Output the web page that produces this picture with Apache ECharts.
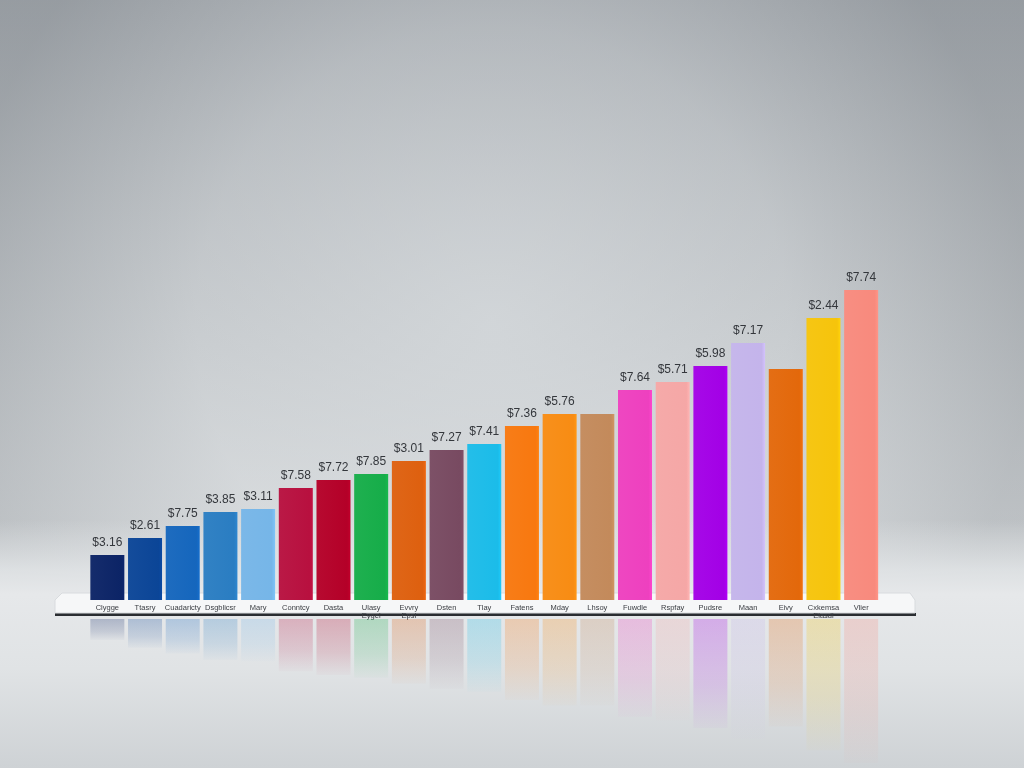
<!DOCTYPE html>
<html>
<head>
<meta charset="utf-8">
<script src="https://cdn.jsdelivr.net/npm/echarts@6/dist/echarts.min.js"></script>
<style>
  html, body { margin: 0; padding: 0; }
  #chart { width: 1024px; height: 768px; }
</style>
</head>
<body>
<div id="chart"></div>
<script>
// 类目名称（原图文字）
const categories = [
  'Clygge', 'Ttasry', 'Cuadaricty', 'Dsgblicsr', 'Mary', 'Conntcy', 'Dasta',
  'Ulasy\nEygel', 'Evvry\nEpsl', 'Dsten', 'Tlay', 'Fatens', 'Mday', 'Lhsoy',
  'Fuwdle', 'Rspfay', 'Pudsre', 'Maan', 'Eivy', 'Cxkemsa\nElasdl', 'Vlier'
]
// 柱子高度
const values = [
  4.5, 6.2, 7.4, 8.8, 9.1, 11.2, 12.0, 12.6, 13.9, 15.0, 15.6,
  17.4, 18.6, 18.6, 21.0, 21.8, 23.4, 25.7, 23.1, 28.2, 31.0
]
// 柱顶标签（空字符串表示不显示）
const valueLabels = [
  '$3.16', '$2.61', '$7.75', '$3.85', '$3.11', '$7.58', '$7.72', '$7.85',
  '$3.01', '$7.27', '$7.41', '$7.36', '$5.76', '', '$7.64', '$5.71',
  '$5.98', '$7.17', '', '$2.44', '$7.74'
]
// 柱子颜色
const colors = [
  '#0c2466', '#0b4597', '#1566bd', '#2a7dc2', '#76b6e8', '#b8103f', '#b40028',
  '#16ad49', '#de600f', '#784a61', '#1bbce9', '#f8780f', '#f88c13', '#c38a5b',
  '#ee40bf', '#f5a7a6', '#a300e6', '#c4b4eb', '#e3680b', '#f6c40b', '#f88a7d'
]

const chart = echarts.init(document.getElementById('chart'))

const option = {
  backgroundColor: new echarts.graphic.LinearGradient(0, 0, 0, 1, [
    { offset: 0, color: '#a4a9ae' },
    { offset: 0.45, color: '#c6cacd' },
    { offset: 0.7, color: '#dcdfe1' },
    { offset: 1, color: '#e0e3e5' },
  ]),
  graphic: [
    {
      // 中间的柔光
      type: 'rect',
      z: -10,
      shape: { x: 0, y: 0, width: 1024, height: 768 },
      style: {
        fill: new echarts.graphic.RadialGradient(0.48, 0.42, 0.7, [
          { offset: 0, color: 'rgba(215,219,222,0.7)' },
          { offset: 0.55, color: 'rgba(210,214,217,0.3)' },
          { offset: 1, color: 'rgba(120,126,132,0.3)' },
        ]),
      },
    },
    {
      // 地面
      type: 'rect',
      z: -9,
      shape: { x: 0, y: 520, width: 1024, height: 248 },
      style: {
        fill: new echarts.graphic.LinearGradient(0, 0, 0, 1, [
          { offset: 0, color: 'rgba(226,229,231,0)' },
          { offset: 0.2, color: 'rgba(226,229,231,0.85)' },
          { offset: 0.3, color: 'rgba(230,232,234,1)' },
          { offset: 0.6, color: 'rgba(224,227,229,1)' },
          { offset: 1, color: 'rgba(206,210,213,1)' },
        ]),
      },
    },
    {
      // 底座阴影
      type: 'rect',
      z: -5,
      shape: { x: 55, y: 613, width: 861, height: 3 },
      style: { fill: '#2a2d31' },
    },
    {
      // 底座
      type: 'polygon',
      z: -4,
      shape: { points: [[62, 593], [910, 593], [915, 600], [915, 613], [55, 613], [55, 600]] },
      style: { fill: '#f6f7f8', stroke: '#d8dbde', lineWidth: 1 },
    },
  ],
  grid: [
    { left: 88.5, right: 144, top: 280, height: 320 },
    { left: 88.5, right: 144, top: 619, height: 320 },
  ],
  xAxis: [
    {
      type: 'category',
      gridIndex: 0,
      data: categories,
      axisLine: { show: false },
      axisTick: { show: false },
      axisLabel: {
        interval: 0,
        margin: 4,
        fontSize: 7.5,
        lineHeight: 8,
        color: '#3a3d42',
        fontFamily: 'Liberation Sans, Arial, sans-serif',
      },
    },
    {
      type: 'category',
      gridIndex: 1,
      data: categories,
      show: false,
    },
  ],
  yAxis: [
    { type: 'value', gridIndex: 0, min: 0, max: 32, show: false },
    { type: 'value', gridIndex: 1, min: 0, max: 32, inverse: true, show: false },
  ],
  series: [
    {
      type: 'bar',
      xAxisIndex: 0,
      yAxisIndex: 0,
      barWidth: 34,
      data: values.map((v, i) => ({
        value: v,
        itemStyle: {
          color: new echarts.graphic.LinearGradient(0, 0, 1, 0, [
            { offset: 0, color: echarts.color.lift(colors[i], 0.04) },
            { offset: 0.9, color: colors[i] },
            { offset: 1, color: echarts.color.lift(colors[i], -0.08) },
          ]),
        },
      })),
      label: {
        show: true,
        position: 'top',
        distance: 6,
        fontSize: 12,
        color: '#34373c',
        fontFamily: 'Liberation Sans, Arial, sans-serif',
        formatter: (p) => valueLabels[p.dataIndex],
      },
    },
    {
      // 倒影
      type: 'bar',
      xAxisIndex: 1,
      yAxisIndex: 1,
      barWidth: 34,
      silent: true,
      data: values.map((v, i) => ({
        value: v,
        itemStyle: {
          color: new echarts.graphic.LinearGradient(0, 0, 0, 1, [
            { offset: 0, color: echarts.color.modifyAlpha(colors[i], 0.25) },
            { offset: 0.6, color: echarts.color.modifyAlpha(colors[i], 0.14) },
            { offset: 1, color: echarts.color.modifyAlpha(colors[i], 0.02) },
          ]),
        },
      })),
    },
  ],
}

chart.setOption(option)
</script>
</body>
</html>
